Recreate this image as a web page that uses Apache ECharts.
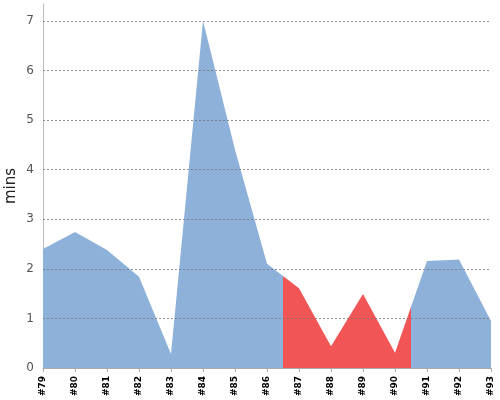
<!DOCTYPE html>
<html><head><meta charset="utf-8">
<script src="https://cdn.jsdelivr.net/npm/echarts@6/dist/echarts.min.js"></script>
<style>html,body{margin:0;padding:0;background:#fff}#c{width:500px;height:400px}</style>
</head><body><div id="c"></div>
<script>
var categories = ['#79','#80','#81','#82','#83','#84','#85','#86','#87','#88','#89','#90','#91','#92','#93'];
var values = [2.40, 2.74, 2.38, 1.84, 0.28, 7.0, 4.40, 2.10, 1.61, 0.44, 1.49, 0.31, 2.16, 2.19, 0.95];
var gridValues = [1, 2, 3, 4, 5, 6, 7];
var highlightFrom = 7.5, highlightTo = 11.5;
var blue = '#8eb1da', red = '#f25555';

var span = categories.length - 1;
var s1 = highlightFrom / span, s2 = highlightTo / span;
var areaColor = new echarts.graphic.LinearGradient(0, 0, 1, 0, [
  {offset: 0, color: blue}, {offset: s1, color: blue},
  {offset: s1, color: red}, {offset: s2, color: red},
  {offset: s2, color: blue}, {offset: 1, color: blue}
]);

var chart = echarts.init(document.getElementById('c'), null, {renderer: 'canvas'});
chart.setOption({
  animation: false,
  grid: {left: 43, right: 9, top: 4, bottom: 32, containLabel: false, outerBoundsMode: 'none'},
  xAxis: {
    type: 'category', data: categories, boundaryGap: false,
    axisLine: {lineStyle: {color: '#aaa'}},
    axisTick: {show: true, alignWithLabel: true, length: 4, lineStyle: {color: '#aaa'}},
    axisLabel: {rotate: 90, color: '#000', fontSize: 9, fontWeight: 'bold', margin: 8, interval: 0, fontFamily: 'DejaVu Sans'}
  },
  yAxis: {
    type: 'value', min: 0, max: 7.34, interval: 1,
    name: 'mins', nameLocation: 'middle', nameGap: 24, nameMoveOverlap: false,
    nameTextStyle: {fontSize: 15, color: '#222', fontFamily: 'DejaVu Sans'},
    axisLine: {show: true, lineStyle: {color: '#bbb'}},
    axisTick: {show: false},
    splitLine: {show: false},
    axisLabel: {color: '#555', fontSize: 12, margin: 9, fontFamily: 'DejaVu Sans',
      formatter: function (v) { return Math.abs(v - Math.round(v)) < 1e-6 ? String(Math.round(v)) : ''; }}
  },
  series: [{
    type: 'line', data: values, symbol: 'none',
    itemStyle: {color: blue},
    lineStyle: {width: 0},
    areaStyle: {opacity: 1, color: areaColor}
  }, {
    type: 'line', data: [], silent: true,
    markLine: {
      silent: true, symbol: ['none', 'none'], label: {show: false},
      lineStyle: {color: '#777', type: [2, 2], width: 0.8},
      data: gridValues.map(function (v) { return {yAxis: v}; })
    }
  }]
});
</script></body></html>
